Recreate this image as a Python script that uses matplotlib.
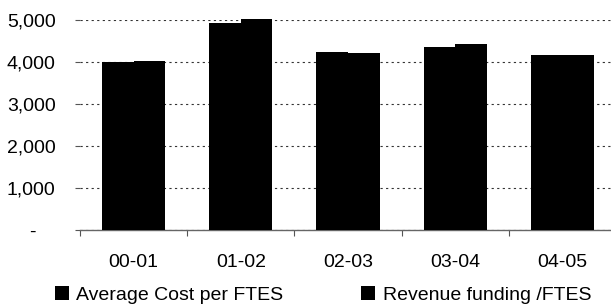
import numpy as np
import matplotlib
matplotlib.use("Agg")
import matplotlib.pyplot as plt
from matplotlib.ticker import FuncFormatter, FixedLocator
from matplotlib.transforms import ScaledTranslation

years = ['00-01', '01-02', '02-03', '03-04', '04-05']
avg_cost = [4000, 4935, 4245, 4365, 4170]
revenue = [4030, 5020, 4222, 4420, 4165]
series_names = ['Average Cost per FTES', 'Revenue funding /FTES']

plt.rcParams['font.family'] = ['Liberation Sans', 'DejaVu Sans']
fs = 14

fig = plt.figure(figsize=(6.11, 3.07), dpi=100)
W, H = 611, 307
ax = fig.add_axes([80 / W, 1 - 230 / H, 536 / W, 210 / H])

x = np.arange(len(years))
w = 0.295
ax.bar(x - w / 2, avg_cost, w, color='black', clip_on=False, zorder=3,
       label=series_names[0])
ax.bar(x + w / 2, revenue, w, color='black', clip_on=False, zorder=3,
       label=series_names[1])

ax.set_xlim(-0.5, len(years) - 0.5)
ax.set_ylim(0, 5000)

# y axis
ax.set_yticks([0, 1000, 2000, 3000, 4000, 5000])
ax.yaxis.set_major_formatter(FuncFormatter(lambda v, p: '-' if v == 0 else f'{int(v):,}'))
ax.tick_params(axis='y', length=3.5, width=0.8, color='#555555', pad=14, labelsize=fs)
ax.yaxis.grid(True, linestyle=(0, (2, 3)), color='#333333', linewidth=0.8, zorder=0)
lbl0 = ax.get_yticklabels()[0]
lbl0.set_transform(lbl0.get_transform() + ScaledTranslation(-20 / 100, 0, fig.dpi_scale_trans))

# x axis
ax.set_xticks(x)
ax.set_xticklabels(years)
ax.xaxis.set_minor_locator(FixedLocator(np.arange(-0.5, len(years), 1.0)))
ax.tick_params(axis='x', which='major', length=0, pad=17, labelsize=fs)
ax.tick_params(axis='x', which='minor', length=4, width=0.8, color='#555555')

for s in ['left', 'right', 'top']:
    ax.spines[s].set_visible(False)
ax.spines['bottom'].set_color('#666666')
ax.spines['bottom'].set_linewidth(1.0)

fig.legend(loc='center left', bbox_to_anchor=(55 / W, 1 - 295 / H), ncol=2,
           frameon=False, fontsize=fs, handlelength=0.7, handleheight=0.7,
           handletextpad=0.4, columnspacing=4.0, borderpad=0, borderaxespad=0)

fig.savefig('out.png', dpi=100)
